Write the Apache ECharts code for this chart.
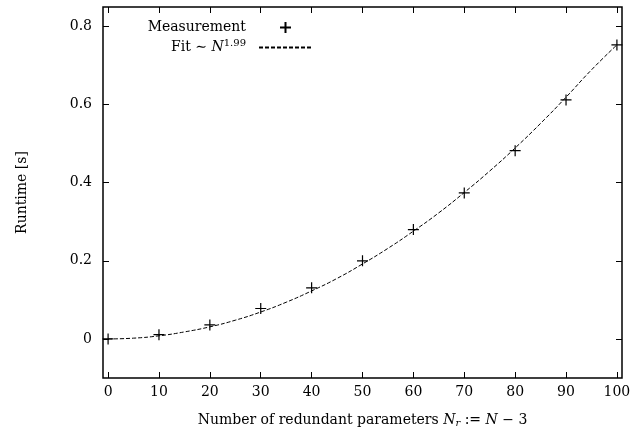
<!DOCTYPE html>
<html>
<head>
<meta charset="utf-8">
<script src="https://cdn.jsdelivr.net/npm/echarts@6/dist/echarts.min.js"></script>
<style>
  html, body { margin: 0; padding: 0; background: #fff; }
  #chart { width: 642px; height: 437px; }
</style>
</head>
<body>
<div id="chart"></div>
<script>
// measured runtimes
const measX = [0, 10, 20, 30, 40, 50, 60, 70, 80, 90, 100];
const measY = [0.0, 0.011, 0.036, 0.078, 0.131, 0.200, 0.280, 0.374, 0.482, 0.612, 0.753];
// fit curve
const fitX = [0, 5, 10, 15, 20, 25, 30, 35, 40, 45, 50, 55, 60, 65, 70, 75, 80, 85, 90, 95, 100];
const fitY = [0.0, 0.002, 0.008, 0.018, 0.031, 0.048, 0.069, 0.094, 0.123, 0.155, 0.192, 0.232, 0.276, 0.323, 0.375, 0.430, 0.489, 0.552, 0.619, 0.689, 0.753];
// tick labels
const xTicks = [0, 10, 20, 30, 40, 50, 60, 70, 80, 90, 100];
const yTicks = [0, 0.2, 0.4, 0.6, 0.8];

const FONT = 'DejaVu Serif';
const plus = 'path://M0,5L10,5M5,0L5,10';

const myChart = echarts.init(document.getElementById('chart'));

const xBase = {
    type: 'value', min: -1, max: 101,
    axisLine: { show: false, onZero: false },
    axisTick: { show: true, inside: true, length: 6, customValues: xTicks, lineStyle: { color: '#000', width: 1 } },
    splitLine: { show: false }
};
const yBase = {
    type: 'value', min: -0.1, max: 0.85,
    axisLine: { show: false, onZero: false },
    axisTick: { show: true, inside: true, length: 6, customValues: yTicks, lineStyle: { color: '#000', width: 1 } },
    splitLine: { show: false }
};

const option = {
    animation: false,
    backgroundColor: '#fff',
    color: ['#000', '#000'],
    textStyle: { fontFamily: FONT, color: '#000' },
    grid: { left: 103, right: 20, top: 7, bottom: 59, show: true, borderColor: '#000', borderWidth: 1.5, backgroundColor: 'transparent' },
    legend: {
        orient: 'vertical',
        left: 101,
        top: 14,
        align: 'right',
        itemWidth: 53,
        itemHeight: 11,
        itemGap: 2,
        textStyle: {
            fontFamily: FONT, fontSize: 14, color: '#000', width: 140, align: 'right', lineHeight: 17,
            padding: [0, 8, 0, 0],
            rich: {
                n: { fontFamily: FONT, fontSize: 14, fontStyle: 'italic', color: '#000' },
                s: { fontFamily: FONT, fontSize: 10, color: '#000', padding: [0, 0, 9, 0] }
            }
        },
        data: [
            { name: 'Measurement' },
            { name: 'Fit ∼ {n|N}{s|1.99}', itemStyle: { opacity: 0 } }
        ]
    },
    xAxis: [
        Object.assign({}, xBase, {
            position: 'bottom',
            axisLabel: { customValues: xTicks, color: '#000', fontFamily: FONT, fontSize: 14, margin: 7 },
            name: 'Number of redundant parameters {n|N}{sub|r} := {n|N} − 3',
            nameLocation: 'middle',
            nameGap: 34,
            nameMoveOverlap: false,
            nameTextStyle: {
                fontFamily: FONT, fontSize: 14, color: '#000',
                rich: {
                    n: { fontFamily: FONT, fontSize: 14, fontStyle: 'italic', color: '#000' },
                    sub: { fontFamily: FONT, fontSize: 10, fontStyle: 'italic', color: '#000', padding: [6, 0, 0, 0] }
                }
            }
        }),
        Object.assign({}, xBase, { position: 'top', axisLabel: { show: false } })
    ],
    yAxis: [
        Object.assign({}, yBase, {
            position: 'left',
            axisLabel: { customValues: yTicks, color: '#000', fontFamily: FONT, fontSize: 14, margin: 11 },
            name: 'Runtime [s]',
            nameLocation: 'middle',
            nameGap: 74,
            nameMoveOverlap: false,
            nameTextStyle: { fontFamily: FONT, fontSize: 14, color: '#000' }
        }),
        Object.assign({}, yBase, { position: 'right', axisLabel: { show: false } })
    ],
    series: [
        {
            name: 'Measurement',
            type: 'scatter',
            symbol: plus,
            symbolSize: 11,
            itemStyle: { color: 'none', borderColor: '#000', borderWidth: 1.2, opacity: 1 },
            data: measX.map((x, i) => [x, measY[i]]),
            z: 3
        },
        {
            name: 'Fit ∼ {n|N}{s|1.99}',
            type: 'line',
            symbol: 'none',
            smooth: true,
            itemStyle: { color: '#000' },
            lineStyle: { color: '#000', width: 1, type: [4, 2] },
            data: fitX.map((x, i) => [x, fitY[i]]),
            z: 2
        },
        {
            // binds the mirror axes (top/right) so their ticks are drawn
            name: 'mirror',
            type: 'scatter',
            xAxisIndex: 1,
            yAxisIndex: 1,
            silent: true,
            data: []
        }
    ]
};

myChart.setOption(option);
</script>
</body>
</html>
